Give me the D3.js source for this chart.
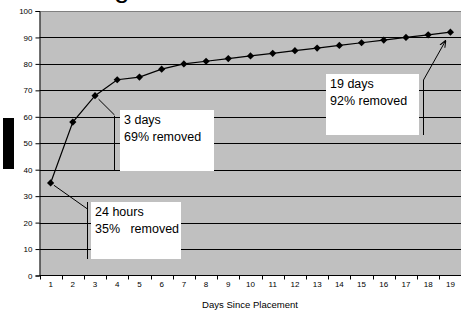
<!DOCTYPE html>
<html>
<head>
<meta charset="utf-8">
<script src="https://cdn.jsdelivr.net/npm/d3@7"></script>
<style>
  html, body { margin: 0; padding: 0; background: #fff; }
  svg { display: block; font-family: "Liberation Sans", Arial, sans-serif; }
</style>
</head>
<body>
<div id="chart"></div>
<script>
// data
const days = ['1', '2', '3', '4', '5', '6', '7', '8', '9', '10', '11', '12', '13', '14', '15', '16', '17', '18', '19'];
const removed = [35, 58, 68, 74, 75, 78, 80, 81, 82, 83, 84, 85, 86, 87, 88, 89, 90, 91, 92];
const yTicks = [0, 10, 20, 30, 40, 50, 60, 70, 80, 90, 100];
const xTitle = 'Days Since Placement';
const notes = [
    { day: '1', lines: ['24 hours', '35%   removed'] },
    { day: '3', lines: ['3 days', '69% removed'] },
    { day: '19', lines: ['19 days', '92% removed'] }
];

const W = 461, H = 312;
const plot = { left: 39.5, right: 461.5, top: 11, bottom: 275.5 };

const svg = d3.select('#chart').append('svg')
    .attr('width', W)
    .attr('height', H);

const x = d3.scaleBand().domain(days).range([plot.left, plot.right]);
const y = d3.scaleLinear().domain([0, 100]).range([plot.bottom, plot.top]);

// cut off title descender at the very top
svg.append('text')
    .attr('x', 114)
    .attr('y', -3)
    .attr('font-size', 28)
    .text('g');

// plot background
svg.append('rect')
    .attr('x', plot.left)
    .attr('y', plot.top)
    .attr('width', plot.right - plot.left)
    .attr('height', plot.bottom - plot.top)
    .attr('fill', '#c0c0c0');

// horizontal grid
svg.selectAll('.grid')
    .data(yTicks.filter(d => d > 0))
    .enter()
    .append('line')
    .attr('class', 'grid')
    .attr('x1', plot.left)
    .attr('x2', plot.right)
    .attr('y1', d => Math.round(y(d)) + 0.5)
    .attr('y2', d => Math.round(y(d)) + 0.5)
    .attr('stroke', d => d === 100 ? '#808080' : '#000')
    .attr('stroke-width', 1);

// y axis
const yAxis = d3.axisLeft(y)
    .tickValues(yTicks)
    .tickSize(4)
    .tickPadding(3);
const yG = svg.append('g')
    .attr('transform', `translate(${plot.left},0)`)
    .call(yAxis);
yG.select('.domain').attr('stroke', '#000');
yG.selectAll('text').attr('font-size', 8).attr('font-family', null).attr('fill', '#000');

// x axis: labels centred, ticks at category boundaries
const xAxis = d3.axisBottom(x).tickSize(0).tickPadding(6);
const xG = svg.append('g')
    .attr('transform', `translate(0,${plot.bottom})`)
    .call(xAxis);
xG.select('.domain').remove();
xG.selectAll('text').attr('font-size', 8).attr('font-family', null).attr('fill', '#000');

svg.append('line')
    .attr('x1', plot.left).attr('x2', plot.right)
    .attr('y1', plot.bottom).attr('y2', plot.bottom)
    .attr('stroke', '#000');

svg.selectAll('.xtick')
    .data(days.map(d => x(d)).concat([plot.right]))
    .enter()
    .append('line')
    .attr('class', 'xtick')
    .attr('x1', d => Math.round(d) + 0.5)
    .attr('x2', d => Math.round(d) + 0.5)
    .attr('y1', plot.bottom)
    .attr('y2', plot.bottom + 4)
    .attr('stroke', '#000');

svg.append('text')
    .attr('x', 250)
    .attr('y', 307.5)
    .attr('text-anchor', 'middle')
    .attr('font-size', 8.5)
    .attr('textLength', 96)
    .attr('lengthAdjust', 'spacingAndGlyphs')
    .text(xTitle);

// series
const pts = days.map((d, i) => ({ day: d, value: removed[i] }));
const cx = d => x(d.day) + x.bandwidth() / 2;
const cy = d => y(d.value);

svg.append('path')
    .datum(pts)
    .attr('fill', 'none')
    .attr('stroke', '#000')
    .attr('stroke-width', 1.2)
    .attr('d', d3.line().x(cx).y(cy));

svg.selectAll('.marker')
    .data(pts)
    .enter()
    .append('path')
    .attr('class', 'marker')
    .attr('d', d3.symbol().type(d3.symbolSquare).size(26))
    .attr('transform', d => `translate(${cx(d)},${cy(d)}) rotate(45)`)
    .attr('fill', '#000');

// black block at left edge
svg.append('rect')
    .attr('x', 3).attr('y', 118)
    .attr('width', 11).attr('height', 51)
    .attr('fill', '#000');

// callouts: box, bar beside it, leader to point
const boxes = [
    { x: 91, y: 202, w: 90, h: 57, bar: 87.5, barTop: 202, lead: [87.5, 209], gap: 4, arrow: false },
    { x: 120, y: 110, w: 94, h: 61, bar: 114.5, barTop: 116, lead: [114.5, 115], gap: 5, arrow: false },
    { x: 326, y: 74, w: 93, h: 61, bar: 423.5, barTop: 80, lead: [423.5, 80], gap: 10, arrow: true }
];

svg.append('defs').append('marker')
    .attr('id', 'arrow')
    .attr('viewBox', '0 0 10 10')
    .attr('refX', 9).attr('refY', 5)
    .attr('markerWidth', 7).attr('markerHeight', 7)
    .attr('orient', 'auto')
    .append('path')
    .attr('d', 'M0,1 L10,5 L0,9')
    .attr('fill', 'none')
    .attr('stroke', '#000')
    .attr('stroke-width', 1.5);

notes.forEach((n, i) => {
    const b = boxes[i];
    const p = pts.find(d => d.day === n.day);
    const px = cx(p), py = cy(p);

    svg.append('rect')
        .attr('x', b.x).attr('y', b.y)
        .attr('width', b.w).attr('height', b.h)
        .attr('fill', '#fff');

    svg.append('line')
        .attr('x1', b.bar).attr('x2', b.bar)
        .attr('y1', b.barTop).attr('y2', b.y + b.h)
        .attr('stroke', '#000');

    // leader: from a bit off the point towards the bar (or arrow onto it)
    const dx = b.lead[0] - px, dy = b.lead[1] - py;
    const len = Math.sqrt(dx * dx + dy * dy);
    const line = svg.append('line')
        .attr('stroke', '#000')
        .attr('stroke-width', 1);
    if (b.arrow) {
        line.attr('x1', b.lead[0]).attr('y1', b.lead[1])
            .attr('x2', px + dx / len * b.gap).attr('y2', py + dy / len * b.gap)
            .attr('marker-end', 'url(#arrow)');
    } else {
        line.attr('x1', px + dx / len * b.gap).attr('y1', py + dy / len * b.gap)
            .attr('x2', b.lead[0]).attr('y2', b.lead[1]);
    }

    n.lines.forEach((t, k) => {
        svg.append('text')
            .attr('x', b.x + 4)
            .attr('y', b.y + 14 + k * 17)
            .attr('font-size', 12.5)
            .attr('xml:space', 'preserve')
            .style('white-space', 'pre')
            .text(t);
    });
});
</script>
</body>
</html>
